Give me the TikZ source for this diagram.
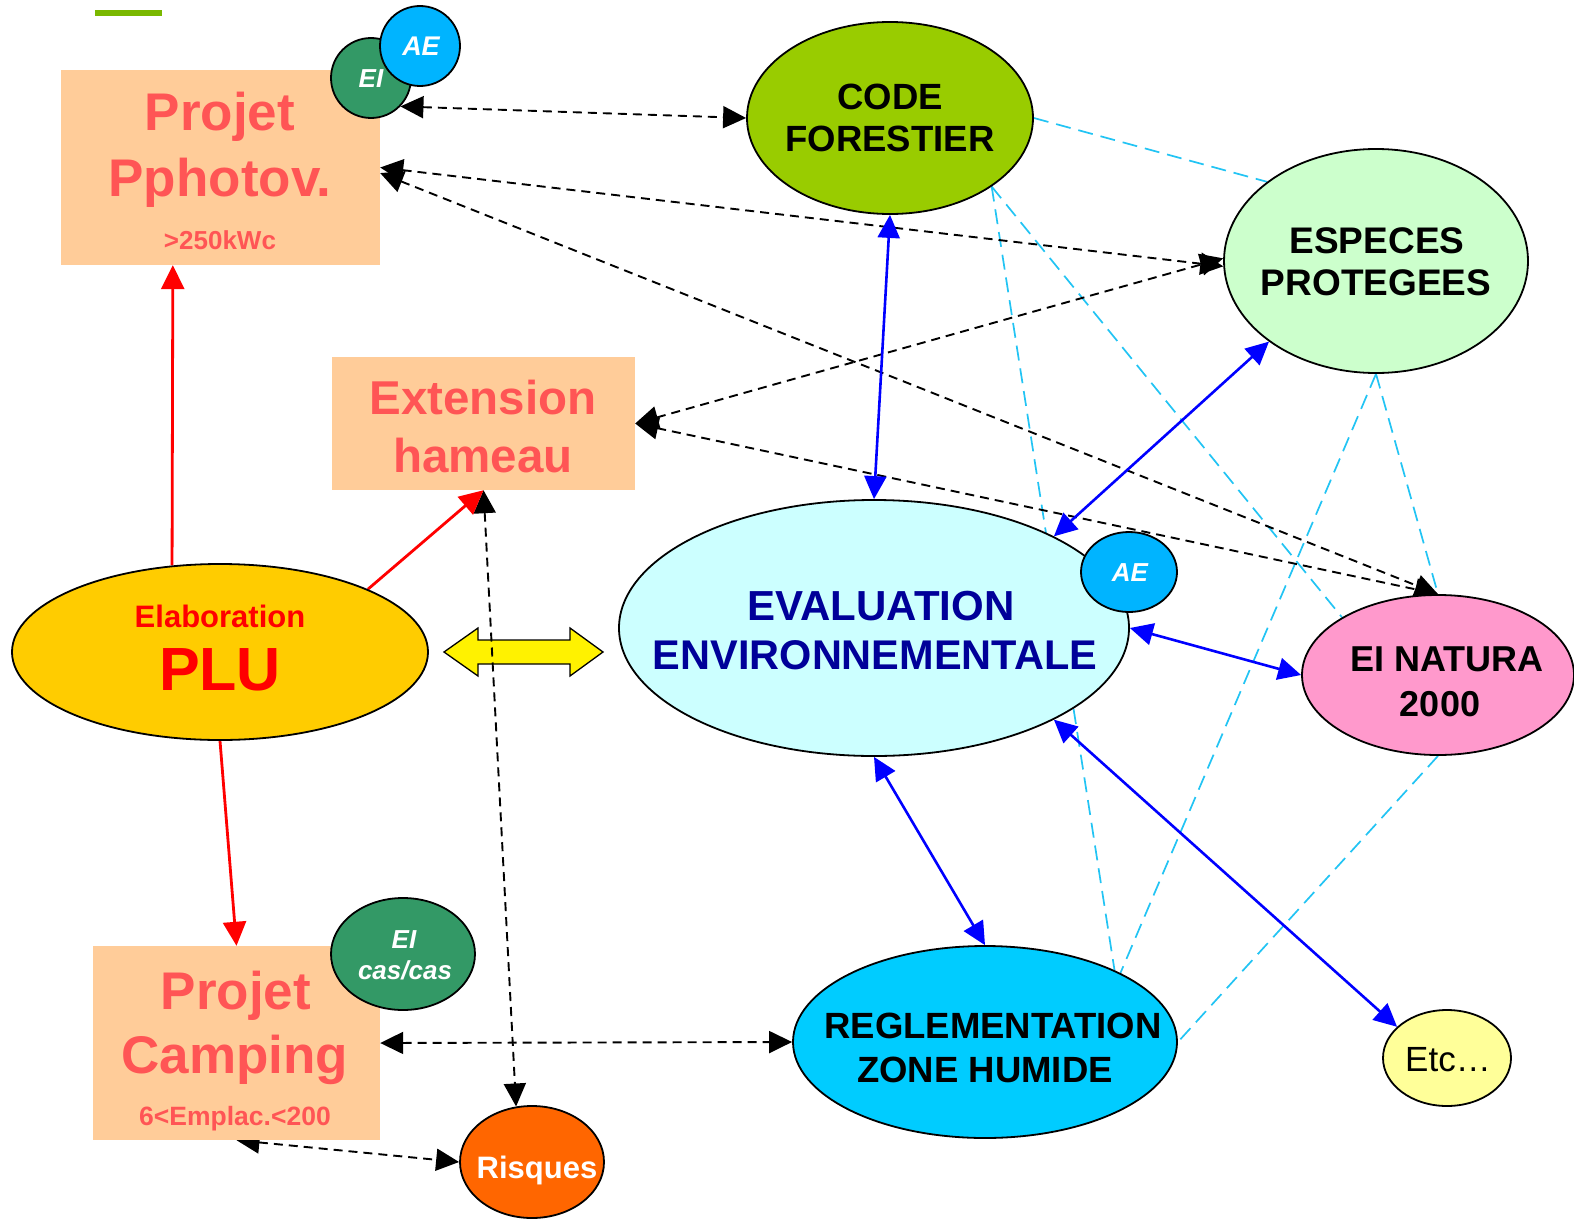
\documentclass[tikz,border=0pt]{standalone}
\usepackage{fontspec}
\setmainfont{Liberation Sans}
\usetikzlibrary{shapes.geometric,arrows.meta}
\definecolor{peach}{HTML}{FFCC99}
\definecolor{salmon}{HTML}{FF5555}
\definecolor{eigreen}{HTML}{339966}
\definecolor{aeblue}{HTML}{00B4FF}
\definecolor{codegreen}{HTML}{99CC00}
\definecolor{espgreen}{HTML}{CCFFCC}
\definecolor{pluyellow}{HTML}{FFCC00}
\definecolor{evalcyan}{HTML}{CCFFFF}
\definecolor{evaltext}{HTML}{000099}
\definecolor{natpink}{HTML}{FF99CC}
\definecolor{etcyellow}{HTML}{FFFF99}
\definecolor{regblue}{HTML}{00CCFF}
\definecolor{risorange}{HTML}{FF6600}
\definecolor{cyline}{HTML}{22C4F4}
\definecolor{bargreen}{HTML}{7AB800}
\pgfdeclarelayer{bg}
\pgfsetlayers{bg,main}
\newcommand\bsz[1]{\fontsize{#1}{#1}\selectfont\bfseries}
\tikzset{
  shp/.style={draw=black, line width=1.8pt, inner sep=0pt},
  ell/.style={shp, ellipse},
  circ/.style={shp, circle},
  box/.style={rectangle, fill=peach, draw=none, inner sep=0pt},
  txt/.style={anchor=base, inner sep=0pt},
  tipA/.style={{Triangle[length=23pt,width=22pt]}-{Triangle[length=23pt,width=22pt]}},
  blackdash/.style={black, line width=1.9pt, dash pattern=on 9pt off 6pt, tipA},
  bluearr/.style={blue, line width=2.6pt, tipA},
  redarr/.style={red, line width=2.8pt, -{Triangle[length=24pt,width=23pt]}},
  cydash/.style={cyline, line width=1.7pt, dash pattern=on 15pt off 8pt},
}
\begin{document}
\begin{tikzpicture}[x=1pt,y=-1pt]
\useasboundingbox (0,0) rectangle (1574,1223);

% boxes
\node[box, minimum width=319pt, minimum height=195pt] (pv) at (220.5,167.5) {};
\node[txt, text=salmon, font=\bsz{53}] (tpv1) at (220,130) {Projet};
\node[txt, text=salmon, font=\bsz{53}] (tpv2) at (220,196) {Pphotov.};
\node[txt, text=salmon, font=\bsz{26}] (tpv3) at (220,249) {>250kWc};
\node[circ, fill=eigreen, minimum size=80pt] (ei1) at (371,78) {};
\node[txt, text=white, font=\bsz{26}\itshape] (tei1) at (371,87) {EI};
\node[circ, fill=aeblue, minimum size=80pt] (ae1) at (420,46) {};
\node[txt, text=white, font=\bsz{27}\itshape] (tae1) at (421,56) {AE};

\node[box, minimum width=303pt, minimum height=133pt] (ext) at (483.5,423.5) {};
\node[txt, text=salmon, font=\bsz{47.5}] (text1) at (483,414) {Extension};
\node[txt, text=salmon, font=\bsz{47.5}] (text2) at (483,472) {hameau};

\node[box, minimum width=287pt, minimum height=194pt] (camp) at (236.5,1043) {};
\node[txt, text=salmon, font=\bsz{53}] (tcamp1) at (236,1009) {Projet};
\node[txt, text=salmon, font=\bsz{53}] (tcamp2) at (235,1073) {Camping};
\node[txt, text=salmon, font=\bsz{26.5}] (tcamp3) at (235,1125) {6<Emplac.<200};
\node[ell, fill=eigreen, minimum width=144pt, minimum height=112pt] (ei2) at (403,954) {};
\node[txt, text=white, font=\bsz{26}\itshape] (tei2a) at (404,948) {EI};
\node[txt, text=white, font=\bsz{26}\itshape] (tei2b) at (405,979) {cas/cas};

% ellipses
\node[ell, fill=pluyellow, minimum width=416pt, minimum height=176pt] (plu) at (220,652) {};
\node[txt, text=red, font=\bsz{31}] (tplu1) at (220,627) {Elaboration};
\node[txt, text=red, font=\bsz{61}] (tplu2) at (220,690) {PLU};

\node[ell, fill=codegreen, minimum width=286pt, minimum height=192pt] (code) at (890,118) {};
\node[txt, font=\bsz{36.5}] (tcode1) at (890,110) {CODE};
\node[txt, font=\bsz{36.5}] (tcode2) at (890,151) {FORESTIER};

\node[ell, fill=espgreen, minimum width=304pt, minimum height=224pt] (esp) at (1376,261) {};
\node[txt, font=\bsz{37}] (tesp1) at (1377,253) {ESPECES};
\node[txt, font=\bsz{37}] (tesp2) at (1376,295) {PROTEGEES};

\node[ell, fill=evalcyan, minimum width=510pt, minimum height=256pt] (eval) at (874,628) {};
\node[txt, text=evaltext, font=\bsz{42}] (teval1) at (881,620) {EVALUATION};
\node[txt, text=evaltext, font=\bsz{41.5}] (teval2) at (875,669) {ENVIRONNEMENTALE};
\node[ell, fill=aeblue, minimum width=96pt, minimum height=80pt] (ae2) at (1129,572) {};
\node[txt, text=white, font=\bsz{26}\itshape] (tae2) at (1130,581) {AE};

\node[ell, fill=natpink, minimum width=272pt, minimum height=160pt] (nat) at (1438,675) {};
\node[txt, font=\bsz{36}] (tnat1) at (1447,671) {EI NATURA};
\node[txt, font=\bsz{36}] (tnat2) at (1440,716) {2000};

\node[ell, fill=regblue, minimum width=384pt, minimum height=192pt] (reg) at (985,1042) {};
\node[txt, font=\bsz{36.5}] (treg1) at (993,1038) {REGLEMENTATION};
\node[txt, font=\bsz{36.5}] (treg2) at (985,1082) {ZONE HUMIDE};

\node[ell, fill=etcyellow, minimum width=128pt, minimum height=96pt] (etc) at (1447,1058) {};
\node[txt, font=\fontsize{35}{35}\selectfont] (tetc) at (1448,1071) {Etc…};

\node[ell, fill=risorange, minimum width=144pt, minimum height=112pt] (ris) at (532,1162) {};
\node[txt, text=white, font=\bsz{31}] (tris) at (537,1178) {Risques};

\begin{pgfonlayer}{bg}
\fill[white] (0,0) rectangle (1574,1223);
% decorative bar
\draw[bargreen, line width=6pt] (95,13) -- (162,13);
% yellow double arrow
\draw[black, line width=1.3pt, fill=yellow]
  (444,652) -- (478,628) -- (478,640) -- (570,640) -- (570,628) -- (603,652)
  -- (570,676) -- (570,664) -- (478,664) -- (478,676) -- cycle;

% cyan dashed links
\draw[cydash] (code.east) -- (esp.144);
\draw[cydash] (code.-34) -- (reg.29);
\draw[cydash] (code.-34) -- (nat.149);
\draw[cydash] (esp.south) -- (nat.north);
\draw[cydash] (esp.south) -- (reg.27);
\draw[cydash] (nat.south) -- (reg.east);

% black dashed links
\draw[blackdash] (ei1.-44) -- (code.west);
\draw[blackdash] (pv.east) -- (esp.182);
\draw[blackdash] (pv.-2) -- (nat.north);
\draw[blackdash] (ext.east) -- (esp.179);
\draw[blackdash] (ext.east) -- (nat.north);
\draw[blackdash] (ext.south) -- (ris.106);
\draw[blackdash] (camp.east) -- (reg.west);
\draw[blackdash] (camp.south) -- (ris.west);

% blue links
\draw[bluearr] (code.south) -- (eval.north);
\draw[bluearr] (esp.217) -- (eval.27);
\draw[bluearr] (eval.east) -- (nat.west);
\draw[bluearr] (eval.-27) -- (etc.148);
\draw[bluearr] (eval.south) -- (reg.north);

% red links
\draw[redarr] (plu.119) -- (pv.-116);
\draw[redarr] (plu.23) -- (ext.south);
\draw[redarr] (plu.south) -- (camp.north);
\end{pgfonlayer}
\end{tikzpicture}
\end{document}
